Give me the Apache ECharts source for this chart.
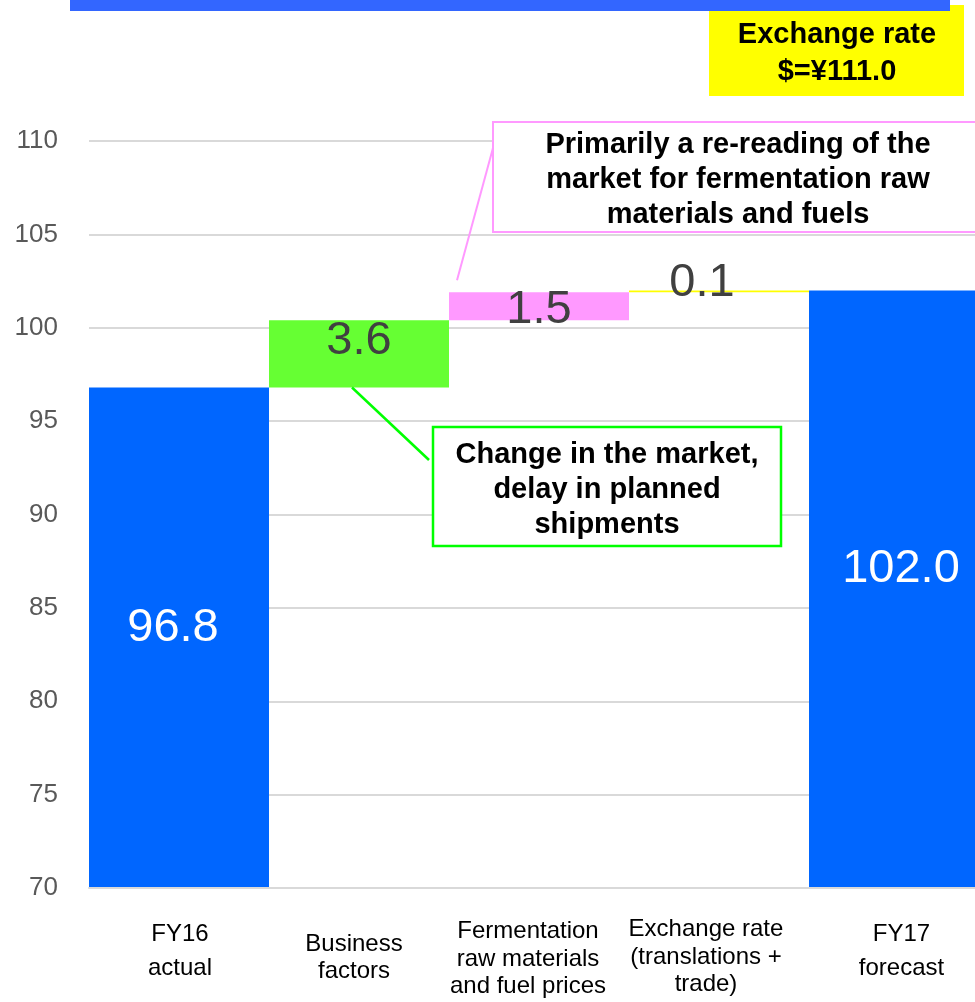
<!DOCTYPE html>
<html>
<head>
<meta charset="utf-8">
<script src="https://cdn.jsdelivr.net/npm/echarts@6/dist/echarts.min.js"></script>
<style>
  html, body { margin: 0; padding: 0; background: #fff; }
  #chart { width: 975px; height: 1002px; }
</style>
</head>
<body>
<div id="chart"></div>
<script>
// Operating result bridge: FY16 actual -> FY17 forecast
const categories = [
  'FY16\nactual',
  'Business\nfactors',
  'Fermentation\nraw materials\nand fuel prices',
  'Exchange rate\n(translations +\ntrade)',
  'FY17\nforecast'
];
const stepValues = [96.8, 3.6, 1.5, 0.1, 102.0];
const isTotal = [true, false, false, false, true];
const yTickLabels = ['70', '75', '80', '85', '90', '95', '100', '105', '110'];

const FONT = "'Liberation Sans', Arial, sans-serif";
const barColors = ['#0066FF', '#66FF33', '#FF99FF', '#FFFF00', '#0066FF'];
const labelColors = ['#FFFFFF', '#404040', '#404040', '#404040', '#FFFFFF'];
const labelOffsets = [[-6, -10], [0, -13], [0, 4], [-17, -8], [2, -20]];
const catLabelStyle = [
  { lineHeight: 34, padding: [1, 0, 0, 2] },
  { lineHeight: 27, padding: [15, 10, 0, 0] },
  { lineHeight: 27.5, padding: [2, 22, 0, 0] },
  { lineHeight: 27.5, padding: [0, 26, 0, 0] },
  { lineHeight: 34, padding: [1, 0, 0, 5] }
];

// invisible floor under each increment (running total)
const baseValues = [];
let running = 0;
stepValues.forEach((v, i) => {
  if (isTotal[i]) { baseValues.push(0); running = v; }
  else { baseValues.push(running); running += v; }
});

const yMin = Number(yTickLabels[0]);
const yMax = Number(yTickLabels[yTickLabels.length - 1]);
const yStep = Number(yTickLabels[1]) - Number(yTickLabels[0]);

const chart = echarts.init(document.getElementById('chart'), null, { renderer: 'canvas' });

const option = {
  animation: false,
  backgroundColor: '#fff',
  grid: { left: 89, right: -14, top: 141, bottom: 114, outerBoundsMode: 'none', containLabel: false },
  xAxis: {
    type: 'category',
    data: categories.map((c, i) => ({ value: c, textStyle: catLabelStyle[i] })),
    z: 5,
    axisLine: { show: true, lineStyle: { color: '#D9D9D9', width: 2 } },
    axisTick: { show: false },
    axisLabel: { interval: 0, margin: 28, fontSize: 24, color: '#000', fontFamily: FONT, verticalAlign: 'top' },
    splitLine: { show: false }
  },
  yAxis: {
    type: 'value',
    min: yMin, max: yMax, interval: yStep,
    axisLine: { show: false },
    axisTick: { show: false },
    axisLabel: { margin: 31, fontSize: 26, color: '#595959', fontFamily: FONT },
    splitLine: { lineStyle: { color: '#D9D9D9', width: 2 } }
  },
  series: [
    {
      name: 'base', type: 'bar', stack: 'bridge', silent: true,
      barCategoryGap: 0,
      itemStyle: { color: 'transparent' },
      data: baseValues
    },
    {
      name: 'step', type: 'bar', stack: 'bridge',
      barCategoryGap: 0,
      data: stepValues.map((v, i) => ({
        value: v,
        itemStyle: { color: barColors[i] },
        label: {
          show: true, position: 'inside', offset: labelOffsets[i],
          color: labelColors[i], fontSize: 47, fontFamily: FONT,
          formatter: () => v.toFixed(1)
        }
      }))
    }
  ]
};
chart.setOption(option);

// Leader-line anchors on the bars
const greenAnchor = chart.convertToPixel({ gridIndex: 0 }, [1, baseValues[1]]);
const pinkAnchor = chart.convertToPixel({ gridIndex: 0 }, [2, baseValues[2] + stepValues[2]]);

const boldText = 'bold 29px ' + FONT;
chart.setOption({
  graphic: [
    { type: 'rect', z: 100, shape: { x: 709, y: 5, width: 255, height: 91 }, style: { fill: '#FFFF00' } },
    { type: 'rect', z: 101, shape: { x: 70, y: 0, width: 880, height: 11 }, style: { fill: '#3366FF' } },
    { type: 'text', z: 102, x: 837, y: 53,
      style: { text: 'Exchange rate\n$=¥111.0', font: boldText, lineHeight: 37, fill: '#000', align: 'center', verticalAlign: 'middle' } },

    { type: 'rect', z: 100, shape: { x: 493, y: 122, width: 495, height: 110 }, style: { fill: '#fff', stroke: '#FF99FF', lineWidth: 2 } },
    { type: 'text', z: 102, x: 738, y: 180,
      style: { text: 'Primarily a re-reading of the\nmarket for fermentation raw\nmaterials and fuels', font: boldText, lineHeight: 35, fill: '#000', align: 'center', verticalAlign: 'middle' } },
    { type: 'line', z: 100, shape: { x1: 493, y1: 148, x2: pinkAnchor[0] - 82, y2: pinkAnchor[1] - 12 }, style: { stroke: '#FF99FF', lineWidth: 2 } },

    { type: 'rect', z: 100, shape: { x: 433, y: 427, width: 348, height: 119 }, style: { fill: '#fff', stroke: '#00FF00', lineWidth: 2.5 } },
    { type: 'text', z: 102, x: 607, y: 490,
      style: { text: 'Change in the market,\ndelay in planned\nshipments', font: boldText, lineHeight: 35, fill: '#000', align: 'center', verticalAlign: 'middle' } },
    { type: 'line', z: 100, shape: { x1: greenAnchor[0] - 7, y1: greenAnchor[1], x2: 429, y2: 460 }, style: { stroke: '#00FF00', lineWidth: 2.5 } }
  ]
});
</script>
</body>
</html>
